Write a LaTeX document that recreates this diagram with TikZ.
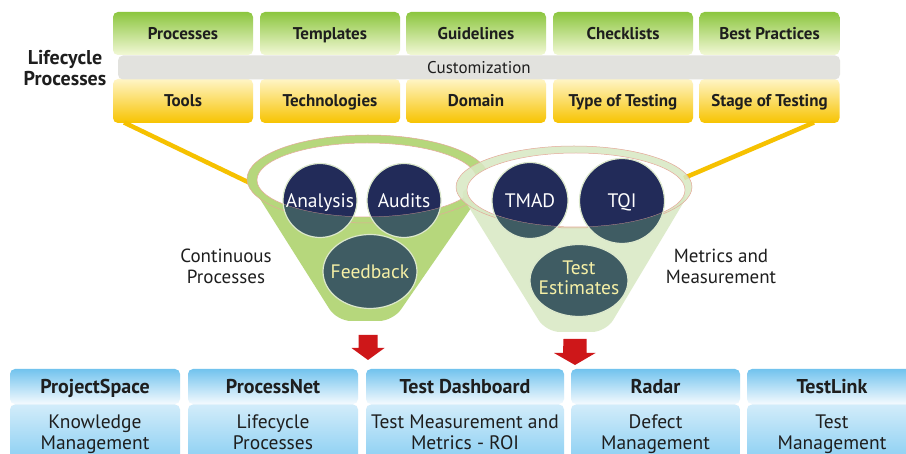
\documentclass[tikz,border=0pt]{standalone}
\usepackage{fontspec}
\setmainfont{PT Sans}
\usetikzlibrary{shapes.geometric}
\definecolor{gtop}{HTML}{8CC63F}
\definecolor{gbot}{HTML}{F2F8D6}
\definecolor{ytop}{HTML}{FFF5C6}
\definecolor{ybot}{HTML}{F7C300}
\definecolor{custgray}{HTML}{E2E2DE}
\definecolor{btop}{HTML}{72C3EE}
\definecolor{bmid}{HTML}{F4FAFE}
\definecolor{blite}{HTML}{D2ECFA}
\definecolor{bbot}{HTML}{86CDF2}
\definecolor{funA}{HTML}{B6D77C}
\definecolor{funB}{HTML}{D8E8C2}
\definecolor{rimc}{HTML}{E4A898}
\definecolor{navy}{HTML}{222B59}
\definecolor{slate}{HTML}{3F5C63}
\definecolor{cborder}{HTML}{DCE8CC}
\definecolor{lighttxt}{HTML}{F6F0A6}
\definecolor{arrred}{HTML}{CE1719}
\definecolor{yline}{HTML}{F6C100}
\definecolor{txt}{HTML}{1E1E1E}
\newcommand{\zl}[1]{\strut\makebox[0pt]{#1}}
\begin{document}
\begin{tikzpicture}[x=1pt,y=-1pt,
  greenbox/.style={rounded corners=5pt, top color=gtop, bottom color=gbot, minimum width=140pt, minimum height=43pt, inner sep=0pt, text height=12pt, text depth=0pt, font=\fontsize{17}{18}\selectfont\bfseries, text=txt},
  yellowbox/.style={rounded corners=5pt, top color=ytop, bottom color=ybot, minimum width=140pt, minimum height=44pt, inner sep=0pt, text height=12pt, text depth=0pt, font=\fontsize{17}{18}\selectfont\bfseries, text=txt},
  headbox/.style={rounded corners=5pt, top color=btop, bottom color=bmid, minimum height=35pt, inner sep=0pt, text height=14pt, text depth=0pt, font=\fontsize{20}{22}\selectfont\bfseries, text=txt},
  bodybox/.style={rounded corners=5pt, top color=blite, bottom color=bbot, minimum height=60pt, inner sep=0pt, align=center, font=\fontsize{19.5}{21.5}\selectfont, text=txt},
  rim/.style={draw=rimc, line width=0.5pt},
  ball/.style={circle, inner sep=0pt, fill=slate, draw=cborder, line width=1.2pt, text height=13.5pt, text depth=0pt, font=\fontsize{19.5}{20}\selectfont, text=white},
  egg/.style={ellipse, inner sep=0pt, fill=slate, draw=cborder, line width=1.2pt, align=center, font=\fontsize{19.5}{20}\selectfont, text=lighttxt},
  sidelabel/.style={align=center, font=\fontsize{19}{21}\selectfont, text=txt},
  redarrow/.style={fill=arrred},
  yconn/.style={draw=yline, line width=4.5pt}
]
\useasboundingbox (0,0) rectangle (906,454);
\fill[white] (0,0) rectangle (906,454);

% top boxes
\node[greenbox] (processes) at (183,33.5) {Processes};
\node[greenbox] (templates) at (330,33.5) {Templates};
\node[greenbox] (guidelines) at (476,33.5) {Guidelines};
\node[greenbox] (checklists) at (623,33.5) {Checklists};
\node[greenbox] (bestpractices) at (769.5,33.5) {Best Practices};
\node[yellowbox] (tools) at (183,101) {Tools};
\node[yellowbox] (technologies) at (330,101) {Technologies};
\node[yellowbox] (domain) at (476,101) {Domain};
\node[yellowbox] (typetesting) at (623,101) {Type of Testing};
\node[yellowbox] (stagetesting) at (769.5,101) {Stage of Testing};
\node[rounded corners=5pt, fill=custgray, minimum width=722pt, minimum height=24pt, inner sep=0pt, text height=12pt, text depth=0pt, font=\fontsize{17}{18}\selectfont, text=txt] (custom) at (479,67.5) {Customization};
\node[align=center, font=\fontsize{20}{21}\selectfont\bfseries, text=txt] (lifecycle) at (65,68) {Lifecycle\\Processes};

% connector coordinates
\coordinate (ylA) at (124,122.5);
\coordinate (ylB) at (252,184);
\coordinate (yrA) at (814,122.5);
\coordinate (yrB) at (684,178);
\draw[yconn] (ylA) -- (ylB);
\draw[yconn] (yrA) -- (yrB);

% left funnel
\coordinate (lc) at (367,180);
\fill[funA, rounded corners=14pt] (248,180) -- (337,321) -- (393,321) -- (487,185) -- cycle;
\fill[funA] (368,179) ellipse [x radius=121, y radius=44];
\draw[rim] (368,179) ellipse [x radius=121, y radius=44];
\fill[white] (lc) ellipse [x radius=110, y radius=37];
\draw[rim] (lc) ellipse [x radius=110, y radius=37];

% right funnel
\coordinate (rc) at (576,190);
\begin{scope}[fill opacity=0.85]
\fill[funB, rounded corners=14pt] (457,188) -- (546,332) -- (606,332) -- (691,190) -- cycle;
\fill[funB] (574,187) ellipse [x radius=118, y radius=41];
\end{scope}
\draw[rim] (574,187) ellipse [x radius=118, y radius=41];
\fill[white] (rc) ellipse [x radius=109, y radius=37];
\draw[rim] (rc) ellipse [x radius=109, y radius=37];

% balls
\node[ball, minimum size=74pt, path picture={\clip (lc) ellipse [x radius=110, y radius=37]; \fill[navy] (path picture bounding box.south west) rectangle (path picture bounding box.north east); \draw[rim] (lc) ellipse [x radius=110, y radius=37];}] (analysis) at (320,200.5) {Analysis};
\node[ball, minimum size=74pt, path picture={\clip (lc) ellipse [x radius=110, y radius=37]; \fill[navy] (path picture bounding box.south west) rectangle (path picture bounding box.north east); \draw[rim] (lc) ellipse [x radius=110, y radius=37];}] (audits) at (404,200.5) {Audits};
\node[egg, minimum width=94pt, minimum height=74pt, text height=13.5pt, text depth=0pt] (feedback) at (370,271.5) {\makebox[0pt]{Feedback}};
\node[ball, minimum size=76pt, path picture={\clip (rc) ellipse [x radius=109, y radius=37]; \fill[navy] (path picture bounding box.south west) rectangle (path picture bounding box.north east); \draw[rim] (rc) ellipse [x radius=109, y radius=37];}] (tmad) at (530,200.5) {TMAD};
\node[ball, minimum size=85pt, path picture={\clip (rc) ellipse [x radius=109, y radius=37]; \fill[navy] (path picture bounding box.south west) rectangle (path picture bounding box.north east); \draw[rim] (rc) ellipse [x radius=109, y radius=37];}] (tqi) at (622,201) {TQI};
\node[egg, minimum width=98pt, minimum height=72pt] (testest) at (579,280.5) {\zl{Test}\\\zl{Estimates}};

% side labels
\node[sidelabel] (continuous) at (226,266.5) {Continuous\\Processes};
\node[sidelabel] (metrics) at (721,266.5) {Metrics and\\Measurement};

% bottom boxes
\node[headbox, minimum width=170pt] (projectspace) at (95,386.5) {ProjectSpace};
\node[bodybox, minimum width=170pt] (km) at (95,434.5) {\strut Knowledge\\\strut Management};
\node[headbox, minimum width=170pt] (processnet) at (273,386.5) {ProcessNet};
\node[bodybox, minimum width=170pt] (lp) at (273,434.5) {\strut Lifecycle\\\strut Processes};
\node[headbox, minimum width=198pt] (dashboard) at (465,386.5) {Test Dashboard};
\node[bodybox, minimum width=198pt] (tmr) at (465,434.5) {\strut Test Measurement and\\\strut Metrics - ROI};
\node[headbox, minimum width=169pt] (radar) at (655.5,386.5) {Radar};
\node[bodybox, minimum width=169pt] (dm) at (655.5,434.5) {\strut Defect\\\strut Management};
\node[headbox, minimum width=170pt] (testlink) at (832,386.5) {TestLink};
\node[bodybox, minimum width=170pt] (tm) at (832,434.5) {\strut Test\\\strut Management};

% red arrows
\coordinate (arrL) at (368,335);
\fill[redarrow] (arrL) ++(-9.5,0) -- ++(19,0) -- ++(0,13) -- ++(7,0) -- (368,360) -- (351.5,348) -- ++(7,0) -- cycle;
\coordinate (arrR) at (575,339);
\fill[redarrow] (arrR) ++(-11.5,0) -- ++(23,0) -- ++(0,14) -- ++(9,0) -- (575,365) -- (554,353) -- ++(9,0) -- cycle;
\end{tikzpicture}
\end{document}
